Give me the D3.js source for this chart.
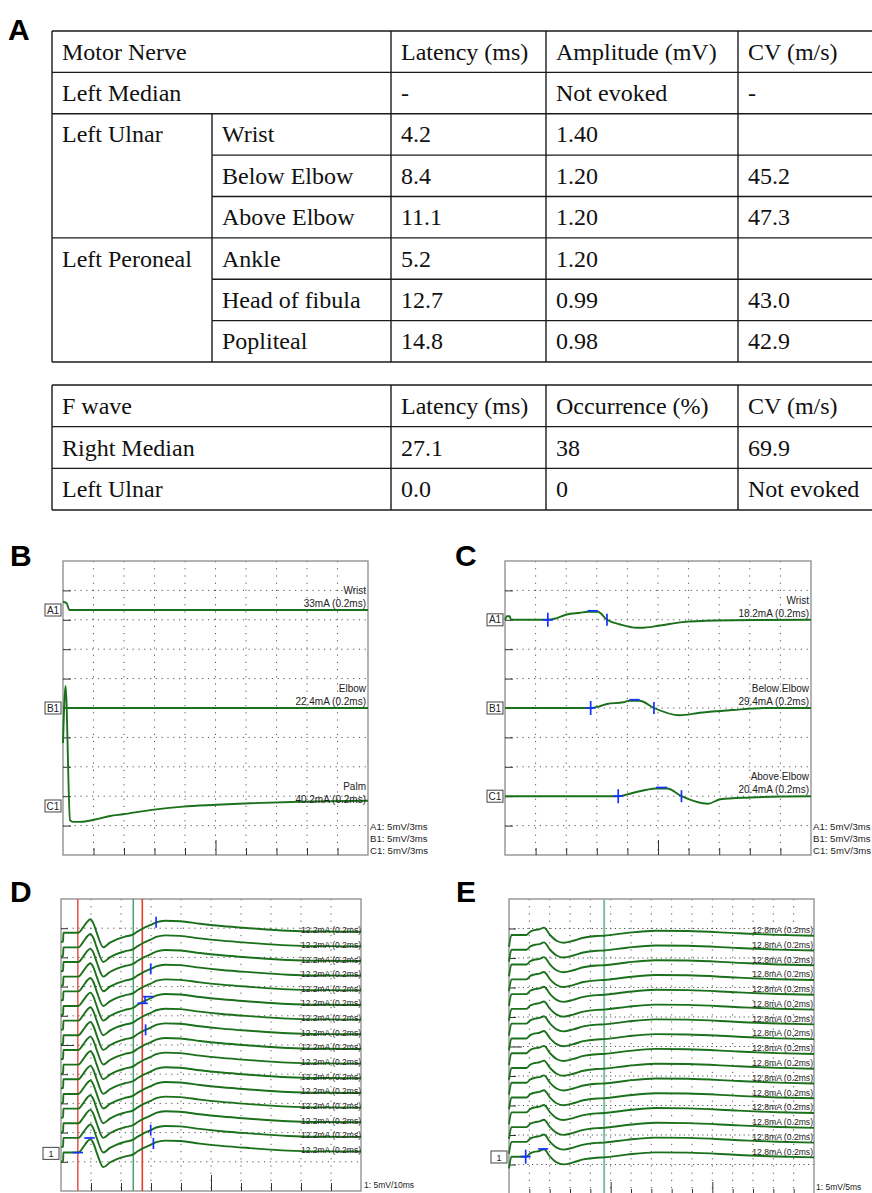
<!DOCTYPE html>
<html>
<head>
<meta charset="utf-8">
<script src="https://cdn.jsdelivr.net/npm/d3@7"></script>
<style>
  body { margin: 0; background: #fff; }
  svg { display: block; }
</style>
</head>
<body>
<script>
// ---------------- data ----------------

// Table A: motor conduction
const motorHeader = ["Motor Nerve", "Latency (ms)", "Amplitude (mV)", "CV (m/s)"];
const motorRows = [
  ["Left Median", null, "-", "Not evoked", "-"],
  ["Left Ulnar", "Wrist", "4.2", "1.40", ""],
  ["Left Ulnar", "Below Elbow", "8.4", "1.20", "45.2"],
  ["Left Ulnar", "Above Elbow", "11.1", "1.20", "47.3"],
  ["Left Peroneal", "Ankle", "5.2", "1.20", ""],
  ["Left Peroneal", "Head of fibula", "12.7", "0.99", "43.0"],
  ["Left Peroneal", "Popliteal", "14.8", "0.98", "42.9"]
];
// Table A: F wave
const fwaveHeader = ["F wave", "Latency (ms)", "Occurrence (%)", "CV (m/s)"];
const fwaveRows = [
  ["Right Median", "27.1", "38", "69.9"],
  ["Left Ulnar", "0.0", "0", "Not evoked"]
];

// Panel B: left median motor, [ms, mV] relative to channel baseline
const bChannels = ["A1", "B1", "C1"];
const bSites = ["Wrist", "Elbow", "Palm"];
const bStim = ["33mA (0.2ms)", "22.4mA (0.2ms)", "40.2mA (0.2ms)"];
const bScaleText = ["A1: 5mV/3ms", "B1: 5mV/3ms", "C1: 5mV/3ms"];
const bTraceA1 = [[0, 1.41], [0.36, 1.14], [0.62, 0], [30, 0]];
const bTraceB1 = [[0, 0], [30, 0]];
const bTraceC1 = [[0, 10.7], [0.25, 20.4], [0.69, -2.4], [0.98, -2.7], [1.67, -2.7], [3.15, -2.3],
  [4.62, -1.7], [5.9, -1.4], [8.56, -0.7], [11.8, -0.1], [15.1, 0.2], [18.4, 0.46], [23.3, 0.73], [30, 0.9]];

// Panel C: left ulnar motor
const cChannels = ["A1", "B1", "C1"];
const cSites = ["Wrist", "Below Elbow", "Above Elbow"];
const cStim = ["18.2mA (0.2ms)", "29.4mA (0.2ms)", "20.4mA (0.2ms)"];
const cScaleText = ["A1: 5mV/3ms", "B1: 5mV/3ms", "C1: 5mV/3ms"];
const cTraceA1 = [[0, 0], [0.2, 0.6], [0.45, 0.6], [0.6, 0], [4.2, 0], [5.0, 0.25], [6.05, 0.9], [7.35, 1.19],
  [8.1, 1.36], [9.1, 1.36], [10.0, 0], [11.3, -0.8], [12.9, -1.36], [13.3, -1.36], [15.2, -0.97],
  [17.4, -0.4], [20.8, -0.12], [25, -0.03], [30, 0]];
const cTraceB1 = [[0, 0], [8.4, 0], [9.3, 0.3], [10.0, 0.68], [11.6, 0.97], [12.2, 1.24], [13.2, 1.24],
  [14.6, 0], [17.1, -1.24], [19.1, -0.8], [22.3, -0.34], [25.6, 0], [30, 0]];
const cTraceC1 = [[0, 0], [11.1, 0], [12.0, 0.3], [12.6, 0.58], [13.9, 1.09], [14.8, 1.31], [15.9, 1.31],
  [17.3, 0], [19.9, -1.29], [21.1, -0.51], [24.0, -0.22], [27, -0.05], [30, 0]];
const cOnset = [4.2, 8.4, 11.1];
const cPeak = [[8.1, 9.1, 1.36], [12.2, 13.2, 1.24], [14.8, 15.9, 1.31]];
const cEnd = [10.0, 14.6, 17.3];

// Panel D: right median F waves, 16 sweeps with the same shape
const dSweepCount = 16;
const dStim = "12.2mA (0.2ms)";
const dScaleText = "1: 5mV/10ms";
const dShape = [[0, -1.54], [0.7, -1.54], [0.8, 0], [5.8, 0], [7.3, 0.86], [8.8, 1.9], [9.8, 2.29],
  [10.8, 1.6], [11.9, 0], [14.1, -2.5], [16.3, -1.71], [18.6, -1.13], [21.3, -0.68], [24.1, -0.3],
  [25.7, 0.26], [27.4, 0.75], [29.7, 1.28], [31.7, 1.78], [34.7, 2.05], [39.7, 1.97], [46.3, 1.54],
  [53.6, 1.15], [63, 0.77], [75.7, 0.34], [86.3, 0.21], [100, 0.17]];
const dRedCursors = [5.6, 27.1];
const dGreenCursor = 24.1;
const dTicks = [[0, 31.7], [3, 29.9], [7, 28.2], [14, 29.9], [15, 30.8]];      // [sweep, ms]
const dDashes = [[5, 27.2, 0.46], [5, 29.1, 1.6], [15, 5.6, 0], [15, 9.5, 2.5]]; // [sweep, ms, mV]
const dLinks = [[5, 28.0, 0.46, 1.6]];                                            // [sweep, ms, mV, mV]

// Panel E: left ulnar F waves
const eSweepCount = 16;
const eStim = "12.8mA (0.2ms)";
const eScaleText = "1: 5mV/5ms";
const eShape = [[0, -2.0], [0.6, 0], [4.3, 0], [5.2, 0.56], [6.4, 0.85], [7.5, 0.97], [8.6, 1.25],
  [10.1, 0], [11.7, -0.97], [13.4, -1.31], [15.8, -0.97], [18.3, -0.46], [21.6, -0.17], [23.4, -0.12],
  [29, 0.35], [36, 0.73], [44, 0.68], [56.4, 0.29], [66, 0.02], [75, -0.12]];
const eCursor = 23.4;
const ePluses = [[15, 4.1]];
const eDashes = [[15, 8.4, 1.31]];

// ---------------- layout / style ----------------
const W = 872, H = 1193;
const GREEN = "#1b701b", BLUE = "#1530ff";
const sans = "'Liberation Sans', Arial, sans-serif";
const serif = "'Liberation Serif', 'Times New Roman', serif";

const svg = d3.select("body").append("svg")
  .attr("width", W).attr("height", H)
  .attr("font-family", sans);

// panel letters
[["A", 8, 40], ["B", 10, 566], ["C", 455, 566], ["D", 10, 902], ["E", 456, 902]].forEach(([t, x, y]) => {
  svg.append("text").attr("x", x).attr("y", y).attr("font-size", 30).attr("font-weight", "bold")
    .attr("fill", "#000").text(t);
});

// ---------------- tables ----------------
const colX = [52, 212, 391, 546, 738, 880];

function drawTable(top, bottom, header, rows, hasSite) {
  const g = svg.append("g").attr("font-family", serif).attr("font-size", 24).attr("fill", "#111");
  const y = d3.scaleBand().domain(d3.range(rows.length + 1)).range([top, bottom]);
  const bh = y.bandwidth();
  const line = (x1, y1, x2, y2) => g.append("line")
    .attr("x1", x1).attr("y1", y1).attr("x2", x2).attr("y2", y2)
    .attr("stroke", "#1a1a1a").attr("stroke-width", 1.4);
  const text = (x, yy, s) => g.append("text").attr("x", x).attr("y", yy + bh / 2 + 8).text(s);

  line(colX[0], top, colX[5], top);
  line(colX[0], bottom, colX[5], bottom);
  line(colX[0], top, colX[0], bottom);
  [2, 3, 4].forEach(c => line(colX[c], top, colX[c], bottom));

  text(colX[0] + 10, y(0), header[0]);
  header.slice(1).forEach((h, i) => text(colX[i + 2] + 10, y(0), h));

  rows.forEach((r, i) => {
    const yy = y(i + 1);
    const same = hasSite && i > 0 && rows[i - 1][0] === r[0];
    line(same ? colX[1] : colX[0], yy, colX[5], yy);
    if (!same) text(colX[0] + 10, yy, r[0]);
    let vals = r.slice(1);
    if (hasSite) {
      if (r[1] !== null) {
        line(colX[1], yy, colX[1], yy + bh);
        text(colX[1] + 10, yy, r[1]);
      }
      vals = r.slice(2);
    }
    vals.forEach((v, k) => text(colX[k + 2] + 10, yy, v));
  });
}
drawTable(31, 362, motorHeader, motorRows, true);
drawTable(385, 510, fwaveHeader, fwaveRows, false);

// ---------------- waveform panels ----------------
function makePanel(cfg) {
  const g = svg.append("g");
  const x = d3.scaleLinear().domain([0, cfg.nx * cfg.msDiv]).range([cfg.x0, cfg.x1]);
  const y = d3.scaleLinear().domain([0, cfg.ny * cfg.mvDiv]).range([cfg.y1, cfg.y0]);
  const vGrid = d3.range(1, cfg.nx).map(k => k * cfg.msDiv);
  const hGrid = d3.range(1, cfg.ny).map(k => k * cfg.mvDiv);

  // dotted grid
  g.append("g").selectAll("line").data(vGrid).join("line")
    .attr("x1", d => x(d)).attr("x2", d => x(d)).attr("y1", cfg.y0).attr("y2", cfg.y1)
    .attr("stroke", "#555").attr("stroke-width", 1).attr("stroke-dasharray", "1.2,6");
  g.append("g").selectAll("line").data(hGrid).join("line")
    .attr("x1", cfg.x0).attr("x2", cfg.x1).attr("y1", d => y(d)).attr("y2", d => y(d))
    .attr("stroke", "#555").attr("stroke-width", 1).attr("stroke-dasharray", cfg.hDash || "1.2,4.6");

  // frame
  g.append("rect").attr("x", cfg.x0).attr("y", cfg.y0)
    .attr("width", cfg.x1 - cfg.x0).attr("height", cfg.y1 - cfg.y0)
    .attr("fill", "none").attr("stroke", "#8a8a8a").attr("stroke-width", 1.3);

  // bottom ticks (pointing up)
  const bottomAxis = g.append("g").attr("transform", `translate(0,${cfg.y1})`)
    .call(d3.axisTop(x).tickValues(vGrid).tickSize(cfg.tick).tickFormat(""));
  bottomAxis.select(".domain").remove();
  bottomAxis.selectAll(".tick line").attr("stroke", "#333")
    .filter(d => cfg.major.includes(Math.round(d / cfg.msDiv))).attr("y2", -cfg.majorTick);

  // left ticks (pointing right)
  const leftAxis = g.append("g").attr("transform", `translate(${cfg.x0},0)`)
    .call(d3.axisRight(y).tickValues(hGrid).tickSize(cfg.ltick).tickFormat(""));
  leftAxis.select(".domain").remove();
  leftAxis.selectAll(".tick line").attr("stroke", "#333")
    .filter(d => cfg.lmajor && Math.round(d / cfg.mvDiv) === 5).attr("x2", cfg.ltick + 6);

  const level = div => (cfg.ny - div) * cfg.mvDiv;
  const line = base => d3.line().x(d => x(d[0])).y(d => y(base + d[1])).curve(d3.curveMonotoneX);
  return { g, x, y, level, line };
}

function drawTrace(p, data, base) {
  p.g.append("path").datum(data).attr("d", p.line(base))
    .attr("fill", "none").attr("stroke", GREEN).attr("stroke-width", 1.9)
    .attr("stroke-linejoin", "round");
}

function chanBox(p, cfg, yy, label, w) {
  const bw = w || 16, bh = 12, xr = cfg.x0 - 2;
  p.g.append("rect").attr("x", xr - bw).attr("y", yy - bh / 2).attr("width", bw).attr("height", bh)
    .attr("fill", "#fff").attr("stroke", "#444").attr("stroke-width", 1);
  p.g.append("text").attr("x", xr - bw / 2).attr("y", yy + 3.6).attr("text-anchor", "middle")
    .attr("font-size", cfg.boxFont || 10).attr("fill", "#222").text(label);
}

const valueAt = shape => d3.scaleLinear().domain(shape.map(d => d[0])).range(shape.map(d => d[1]));

function plusMark(p, cx, cy) {
  p.g.append("path").attr("d", `M${cx - 5},${cy}H${cx + 5}M${cx},${cy - 7}V${cy + 7}`)
    .attr("stroke", BLUE).attr("stroke-width", 1.7).attr("fill", "none");
}
function dashMark(p, cx, cy, half) {
  p.g.append("path").attr("d", `M${cx - half},${cy}H${cx + half}`)
    .attr("stroke", BLUE).attr("stroke-width", 1.7).attr("fill", "none");
}
function tickMark(p, cx, cy, half) {
  p.g.append("path").attr("d", `M${cx},${cy - half}V${cy + half}`)
    .attr("stroke", BLUE).attr("stroke-width", 1.7).attr("fill", "none");
}

// ---- Panel B ----
const cfgB = { x0: 63, x1: 368, y0: 561, y1: 855, nx: 10, ny: 10, msDiv: 3, mvDiv: 5,
  tick: 7, majorTick: 15, major: [5], ltick: 8, baseDiv: [1.667, 5, 8.333] };
const pB = makePanel(cfgB);
[bTraceA1, bTraceB1, bTraceC1].forEach((tr, i) => {
  const base = pB.level(cfgB.baseDiv[i]);
  drawTrace(pB, tr, base);
  const yy = pB.y(base);
  chanBox(pB, cfgB, yy, bChannels[i]);
  pB.g.append("text").attr("x", cfgB.x1 - 2).attr("y", yy - 16).attr("text-anchor", "end")
    .attr("font-size", 10).attr("fill", "#222").text(bSites[i]);
  pB.g.append("text").attr("x", cfgB.x1 - 2).attr("y", yy - 3).attr("text-anchor", "end")
    .attr("font-size", 10).attr("fill", "#222").text(bStim[i]);
});
bScaleText.forEach((s, i) => svg.append("text").attr("x", cfgB.x1 + 2).attr("y", 830 + i * 12)
  .attr("font-size", 9.6).attr("fill", "#222").text(s));

// ---- Panel C ----
const cfgC = { x0: 505, x1: 811, y0: 561, y1: 855, nx: 10, ny: 10, msDiv: 3, mvDiv: 5,
  tick: 7, majorTick: 15, major: [5], ltick: 8, baseDiv: [2, 5, 8] };
const pC = makePanel(cfgC);
[cTraceA1, cTraceB1, cTraceC1].forEach((tr, i) => {
  const base = pC.level(cfgC.baseDiv[i]);
  drawTrace(pC, tr, base);
  const yy = pC.y(base);
  chanBox(pC, cfgC, yy, cChannels[i]);
  pC.g.append("text").attr("x", cfgC.x1 - 2).attr("y", yy - 16).attr("text-anchor", "end")
    .attr("font-size", 10).attr("fill", "#222").text(cSites[i]);
  pC.g.append("text").attr("x", cfgC.x1 - 2).attr("y", yy - 3).attr("text-anchor", "end")
    .attr("font-size", 10).attr("fill", "#222").text(cStim[i]);
  const v = valueAt(tr);
  plusMark(pC, pC.x(cOnset[i]), pC.y(base));
  const [p0, p1, pa] = cPeak[i];
  dashMark(pC, (pC.x(p0) + pC.x(p1)) / 2, pC.y(base + pa) - 1, (pC.x(p1) - pC.x(p0)) / 2);
  tickMark(pC, pC.x(cEnd[i]), pC.y(base + v(cEnd[i])), 6);
});
cScaleText.forEach((s, i) => svg.append("text").attr("x", cfgC.x1 + 2).attr("y", 830 + i * 12)
  .attr("font-size", 9.6).attr("fill", "#222").text(s));

// ---- Panel D ----
const cfgD = { x0: 61, x1: 361, y0: 899, y1: 1191, nx: 10, ny: 10, msDiv: 10, mvDiv: 5,
  tick: 8, majorTick: 16, major: [5], ltick: 7, lmajor: true, firstDiv: 1.154, stepDiv: 0.502, boxFont: 9 };
const pD = makePanel(cfgD);
const dBase = i => pD.level(cfgD.firstDiv + i * cfgD.stepDiv);
// cursors
dRedCursors.forEach((t, k) => pD.g.append("line").attr("x1", pD.x(t)).attr("x2", pD.x(t))
  .attr("y1", cfgD.y0).attr("y2", cfgD.y1).attr("stroke", k === 0 ? "#ea5a52" : "#e53a30")
  .attr("stroke-width", 1.6));
pD.g.append("line").attr("x1", pD.x(dGreenCursor)).attr("x2", pD.x(dGreenCursor))
  .attr("y1", cfgD.y0).attr("y2", cfgD.y1).attr("stroke", "#4f9a72").attr("stroke-width", 1.5);
const dVal = valueAt(dShape);
d3.range(dSweepCount).forEach(i => {
  drawTrace(pD, dShape, dBase(i));
  pD.g.append("text").attr("x", cfgD.x1).attr("y", pD.y(dBase(i)) + 0.5).attr("text-anchor", "end")
    .attr("font-size", 8.5).attr("fill", "#222").text(dStim);
});
chanBox(pD, cfgD, pD.y(dBase(dSweepCount - 1)) + 0.8, "1", 16);
dTicks.forEach(([s, t]) => tickMark(pD, pD.x(t), pD.y(dBase(s) + dVal(t)), 5.5));
dDashes.forEach(([s, t, v]) => dashMark(pD, pD.x(t), pD.y(dBase(s) + v), 5.2));
dLinks.forEach(([s, t, v0, v1]) => pD.g.append("path")
  .attr("d", `M${pD.x(t)},${pD.y(dBase(s) + v0)}V${pD.y(dBase(s) + v1)}`)
  .attr("stroke", BLUE).attr("stroke-width", 1.6));
svg.append("text").attr("x", cfgD.x1 + 3).attr("y", 1188).attr("font-size", 8.5).attr("fill", "#222").text(dScaleText);

// ---- Panel E ----
const cfgE = { x0: 509, x1: 814, y0: 899, y1: 1194, nx: 15, ny: 10, msDiv: 5, mvDiv: 5,
  tick: 5, majorTick: 12, major: [5, 10], ltick: 7, lmajor: true, firstDiv: 1.22, stepDiv: 0.501,
  boxFont: 9, hDash: "1.2,3.4" };
const pE = makePanel(cfgE);
const eBase = i => pE.level(cfgE.firstDiv + i * cfgE.stepDiv);
pE.g.append("line").attr("x1", pE.x(eCursor)).attr("x2", pE.x(eCursor))
  .attr("y1", cfgE.y0).attr("y2", cfgE.y1).attr("stroke", "#7dbf9f").attr("stroke-width", 2);
d3.range(eSweepCount).forEach(i => {
  drawTrace(pE, eShape, eBase(i));
  pE.g.append("text").attr("x", cfgE.x1 - 1).attr("y", pE.y(eBase(i)) - 2).attr("text-anchor", "end")
    .attr("font-size", 8.6).attr("fill", "#222").text(eStim);
});
chanBox(pE, cfgE, pE.y(eBase(eSweepCount - 1)) + 0.3, "1", 16);
ePluses.forEach(([s, t]) => plusMark(pE, pE.x(t), pE.y(eBase(s))));
eDashes.forEach(([s, t, v]) => dashMark(pE, pE.x(t), pE.y(eBase(s) + v), 5));
svg.append("text").attr("x", cfgE.x1 + 2).attr("y", 1190).attr("font-size", 8.5).attr("fill", "#222").text(eScaleText);
</script>
</body>
</html>
